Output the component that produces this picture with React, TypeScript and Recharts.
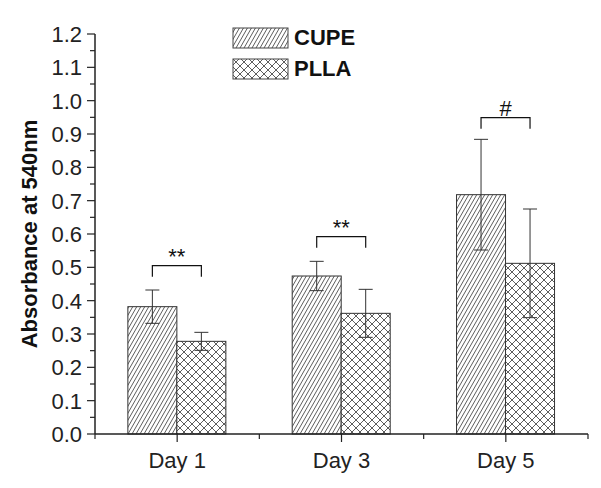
import React from "react";
import { BarChart, Bar, XAxis, YAxis, ErrorBar, Legend } from "recharts";

const days = ["Day 1", "Day 3", "Day 5"];
const cupe = [0.382, 0.474, 0.718];
const cupeErr = [0.05, 0.044, 0.166];
const plla = [0.278, 0.362, 0.512];
const pllaErr = [0.027, 0.072, 0.163];
// significance brackets between the two bars of each day
const sigLevel = [0.505, 0.592, 0.949];
const sigLabel = ["**", "**", "#"];
const sigDrop = 0.033;

const yMajor = [0, 0.1, 0.2, 0.3, 0.4, 0.5, 0.6, 0.7, 0.8, 0.9, 1.0, 1.1, 1.2];

const data = days.map((d, i) => ({
  day: d,
  cupe: cupe[i],
  cupeErr: cupeErr[i],
  plla: plla[i],
  pllaErr: pllaErr[i],
  sig: sigLevel[i],
  sigLabel: sigLabel[i],
}));

const yTicks: number[] = [];
yMajor.forEach((v, i) => {
  yTicks.push(v);
  if (i < yMajor.length - 1) yTicks.push((v + yMajor[i + 1]) / 2);
});

const FONT = "'Liberation Sans', Arial, sans-serif";

const Patterns = ({ p }: { p: string }) => (
  <defs>
    <pattern id={p + "hatch"} patternUnits="userSpaceOnUse" width="4" height="7">
      <rect width="4" height="7" fill="#fff" />
      <path d="M-1,1.75 L1,-1.75 M0,7 L4,0 M3,8.75 L5,5.25" stroke="#333" strokeWidth="0.8" />
    </pattern>
    <pattern id={p + "cross"} patternUnits="userSpaceOnUse" width="8" height="8">
      <rect width="8" height="8" fill="#fff" />
      <path d="M0,0 L8,8 M8,0 L0,8" stroke="#333" strokeWidth="0.8" />
    </pattern>
  </defs>
);

const CupeShape = (props: any) => {
  const { x, y, width, height, payload } = props;
  const base = y + height;
  const perUnit = height / payload.cupe;
  const yAt = (v: number) => base - v * perUnit;
  const top = yAt(payload.sig);
  const leg = yAt(payload.sig - sigDrop);
  const x1 = x + width / 2;
  const x2 = x1 + width;
  return (
    <g>
      <rect x={x} y={y} width={width} height={height} fill="url(#chatch)" stroke="#333" strokeWidth={1} />
      <path d={`M${x1},${leg}V${top}H${x2}V${leg}`} stroke="#111" strokeWidth={1.2} fill="none" />
      <text x={(x1 + x2) / 2} y={top - 2} textAnchor="middle" fontSize={22} fontFamily={FONT} fill="#111">
        {payload.sigLabel}
      </text>
    </g>
  );
};

const PllaShape = (props: any) => {
  const { x, y, width, height } = props;
  return <rect x={x} y={y} width={width} height={height} fill="url(#ccross)" stroke="#333" strokeWidth={1} />;
};

const YTick = (props: any) => {
  const { x, y, payload } = props;
  const v = payload.value;
  const major = Math.round(v * 100) % 10 === 0;
  return (
    <g>
      <line x1={x} x2={x - (major ? 8 : 5)} y1={y} y2={y} stroke="#222" strokeWidth={1.2} />
      {major && (
        <text x={x - 13} y={y} dy="0.36em" textAnchor="end" fontSize={22} fontFamily={FONT} fill="#222">
          {v.toFixed(1)}
        </text>
      )}
    </g>
  );
};

const XTick = (props: any) => {
  const { x, y, payload } = props;
  const half = payload.offset || 82;
  return (
    <g>
      <line x1={x} x2={x} y1={y} y2={y + 8} stroke="#222" strokeWidth={1.2} />
      <line x1={x + half} x2={x + half} y1={y} y2={y + 5} stroke="#222" strokeWidth={1.2} />
      {payload.index === 0 && (
        <line x1={x - half} x2={x - half} y1={y} y2={y + 5} stroke="#222" strokeWidth={1.2} />
      )}
      <text x={x} y={y + 34} textAnchor="middle" fontSize={22} fontFamily={FONT} fill="#222">
        {payload.value}
      </text>
    </g>
  );
};

const YTitle = (props: any) => {
  const { viewBox } = props;
  const cx = viewBox.x + 2;
  const cy = viewBox.y + viewBox.height / 2;
  return (
    <text
      x={cx}
      y={cy}
      transform={`rotate(-90, ${cx}, ${cy})`}
      textAnchor="middle"
      fontSize={22}
      fontWeight="bold"
      fontFamily={FONT}
      fill="#111"
    >
      Absorbance at 540nm
    </text>
  );
};

const LegendBox = () => {
  const items = [
    { name: "CUPE", fill: "url(#lhatch)" },
    { name: "PLLA", fill: "url(#lcross)" },
  ];
  return (
    <div style={{ fontFamily: FONT }}>
      <svg width={0} height={0} style={{ position: "absolute" }}>
        <Patterns p="l" />
      </svg>
      {items.map((it) => (
        <div key={it.name} style={{ display: "flex", alignItems: "center", height: 31 }}>
          <svg width={58} height={22}>
            <rect x={1} y={1} width={55} height={20} fill={it.fill} stroke="#444" strokeWidth={1} />
          </svg>
          <span style={{ fontSize: 22, fontWeight: "bold", marginLeft: 4, color: "#111" }}>{it.name}</span>
        </div>
      ))}
    </div>
  );
};

export default function App() {
  return (
    <div style={{ position: "absolute", left: 0, top: 0, width: 601, height: 488, background: "#fff" }}>
      <BarChart
        width={601}
        height={488}
        data={data}
        margin={{ top: 34, right: 13, left: 35, bottom: 14 }}
        barGap={0}
        barCategoryGap="20%"
      >
        <Patterns p="c" />
        <XAxis
          dataKey="day"
          height={40}
          tickSize={0}
          tickMargin={0}
          tick={<XTick />}
          axisLine={{ stroke: "#222", strokeWidth: 1.5 }}
          interval={0}
        />
        <YAxis
          width={60}
          domain={[0, 1.2]}
          ticks={yTicks}
          interval={0}
          tickSize={0}
          tickMargin={0}
          tick={<YTick />}
          axisLine={{ stroke: "#222", strokeWidth: 1.5 }}
          label={{ content: <YTitle /> }}
        />
        <Legend
          layout="horizontal"
          verticalAlign="middle"
          align="center"
          content={<LegendBox />}
          wrapperStyle={{ top: 22, left: 232, width: 150 }}
        />
        <Bar dataKey="cupe" name="CUPE" shape={<CupeShape />} isAnimationActive={false}>
          <ErrorBar dataKey="cupeErr" width={7} stroke="#333" strokeWidth={1} isAnimationActive={false} />
        </Bar>
        <Bar dataKey="plla" name="PLLA" shape={<PllaShape />} isAnimationActive={false}>
          <ErrorBar dataKey="pllaErr" width={7} stroke="#333" strokeWidth={1} isAnimationActive={false} />
        </Bar>
      </BarChart>
    </div>
  );
}
